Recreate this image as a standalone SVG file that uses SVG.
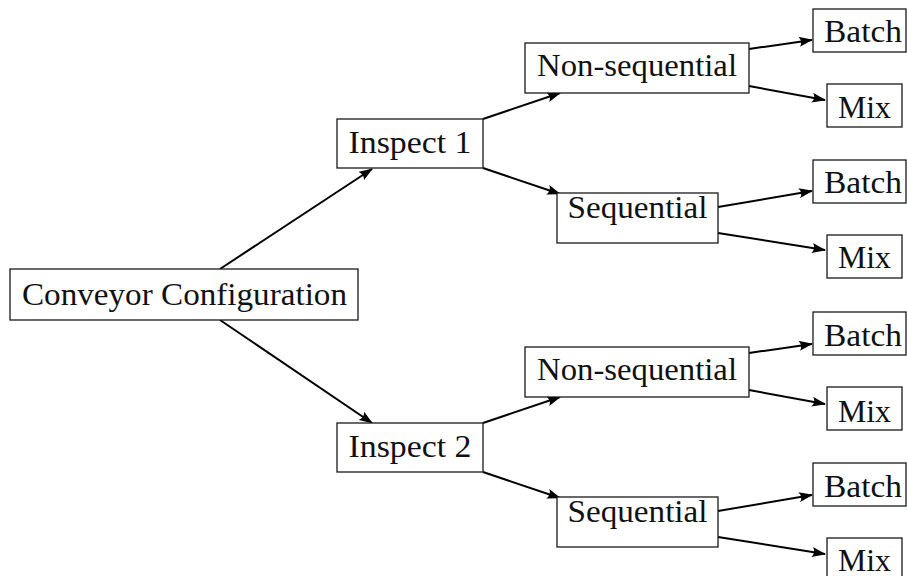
<svg xmlns="http://www.w3.org/2000/svg" width="907" height="576" viewBox="0 0 907 576">
  <style>
    .box { fill: #ffffff; stroke: #1a1a1a; stroke-width: 1.3; }
    .lbl { font-family: "Liberation Serif", "Times New Roman", "DejaVu Serif", "Noto Serif", serif; font-size: 31px; fill: #111111; text-anchor: middle; }
    .edge { stroke: #000000; stroke-width: 2; fill: none; marker-end: url(#head); }
  </style>
  <defs>
    <marker id="head" viewBox="0 0 14 10" refX="13" refY="5" markerWidth="14" markerHeight="10" markerUnits="userSpaceOnUse" orient="auto">
      <path d="M0,0 Q4,5 0,10 L14,5 Z" fill="#000000"/>
    </marker>
  </defs>
  <rect width="907" height="576" fill="#ffffff"/>

  <!-- connectors -->
  <g id="connectors">
    <line class="edge" x1="220" y1="269" x2="372" y2="169"/>
    <line class="edge" x1="220" y1="320" x2="372" y2="423"/>

    <line class="edge" x1="483" y1="119" x2="560" y2="93"/>
    <line class="edge" x1="483" y1="168" x2="560" y2="194"/>
    <line class="edge" x1="483" y1="423" x2="560" y2="397"/>
    <line class="edge" x1="483" y1="472" x2="560" y2="498"/>

    <line class="edge" x1="749" y1="49" x2="812" y2="40"/>
    <line class="edge" x1="749" y1="86" x2="825" y2="100"/>
    <line class="edge" x1="718" y1="207" x2="812" y2="191"/>
    <line class="edge" x1="718" y1="233" x2="825" y2="250"/>

    <line class="edge" x1="749" y1="353" x2="812" y2="344"/>
    <line class="edge" x1="749" y1="390" x2="825" y2="404"/>
    <line class="edge" x1="718" y1="511" x2="812" y2="495"/>
    <line class="edge" x1="718" y1="537" x2="825" y2="554"/>
  </g>

  <g font-family="Liberation Serif, Times New Roman, DejaVu Serif, serif">
  <!-- root -->
  <g id="conveyor">
    <rect class="box" x="10" y="269" width="348" height="51"/>
    <text class="lbl" x="184.5" y="305" textLength="325" lengthAdjust="spacingAndGlyphs">Conveyor Configuration</text>
  </g>

  <!-- first level -->
  <g id="inspect1">
    <rect class="box" x="337" y="119" width="146" height="49"/>
    <text class="lbl" x="410" y="153" textLength="123" lengthAdjust="spacingAndGlyphs">Inspect 1</text>
  </g>
  <g id="inspect2">
    <rect class="box" x="337" y="423" width="146" height="49"/>
    <text class="lbl" x="410" y="457" textLength="123" lengthAdjust="spacingAndGlyphs">Inspect 2</text>
  </g>

  <!-- second level -->
  <g id="nonseq1">
    <rect class="box" x="525" y="43" width="224" height="50"/>
    <text class="lbl" x="637" y="76" textLength="200" lengthAdjust="spacingAndGlyphs">Non-sequential</text>
  </g>
  <g id="seq1">
    <rect class="box" x="557" y="193" width="161" height="50"/>
    <text class="lbl" x="637.5" y="218" textLength="140" lengthAdjust="spacingAndGlyphs">Sequential</text>
  </g>
  <g id="nonseq2">
    <rect class="box" x="525" y="347" width="224" height="50"/>
    <text class="lbl" x="637" y="380" textLength="200" lengthAdjust="spacingAndGlyphs">Non-sequential</text>
  </g>
  <g id="seq2">
    <rect class="box" x="557" y="497" width="161" height="50"/>
    <text class="lbl" x="637.5" y="522" textLength="140" lengthAdjust="spacingAndGlyphs">Sequential</text>
  </g>

  <!-- leaves -->
  <g id="batch1">
    <rect class="box" x="813" y="9" width="93" height="43"/>
    <text class="lbl" x="863" y="42" textLength="78" lengthAdjust="spacingAndGlyphs">Batch</text>
  </g>
  <g id="mix1">
    <rect class="box" x="827" y="84" width="75" height="43"/>
    <text class="lbl" x="864.5" y="118" textLength="53" lengthAdjust="spacingAndGlyphs">Mix</text>
  </g>
  <g id="batch2">
    <rect class="box" x="813" y="160" width="93" height="43"/>
    <text class="lbl" x="863" y="193" textLength="78" lengthAdjust="spacingAndGlyphs">Batch</text>
  </g>
  <g id="mix2">
    <rect class="box" x="827" y="235" width="75" height="43"/>
    <text class="lbl" x="864.5" y="268" textLength="53" lengthAdjust="spacingAndGlyphs">Mix</text>
  </g>
  <g id="batch3">
    <rect class="box" x="813" y="312" width="93" height="43"/>
    <text class="lbl" x="863" y="346" textLength="78" lengthAdjust="spacingAndGlyphs">Batch</text>
  </g>
  <g id="mix3">
    <rect class="box" x="827" y="387" width="75" height="43"/>
    <text class="lbl" x="864.5" y="422" textLength="53" lengthAdjust="spacingAndGlyphs">Mix</text>
  </g>
  <g id="batch4">
    <rect class="box" x="813" y="463" width="93" height="43"/>
    <text class="lbl" x="863" y="497" textLength="78" lengthAdjust="spacingAndGlyphs">Batch</text>
  </g>
  <g id="mix4">
    <rect class="box" x="827" y="538" width="75" height="43"/>
    <text class="lbl" x="864.5" y="571" textLength="53" lengthAdjust="spacingAndGlyphs">Mix</text>
  </g>
  </g>
</svg>
